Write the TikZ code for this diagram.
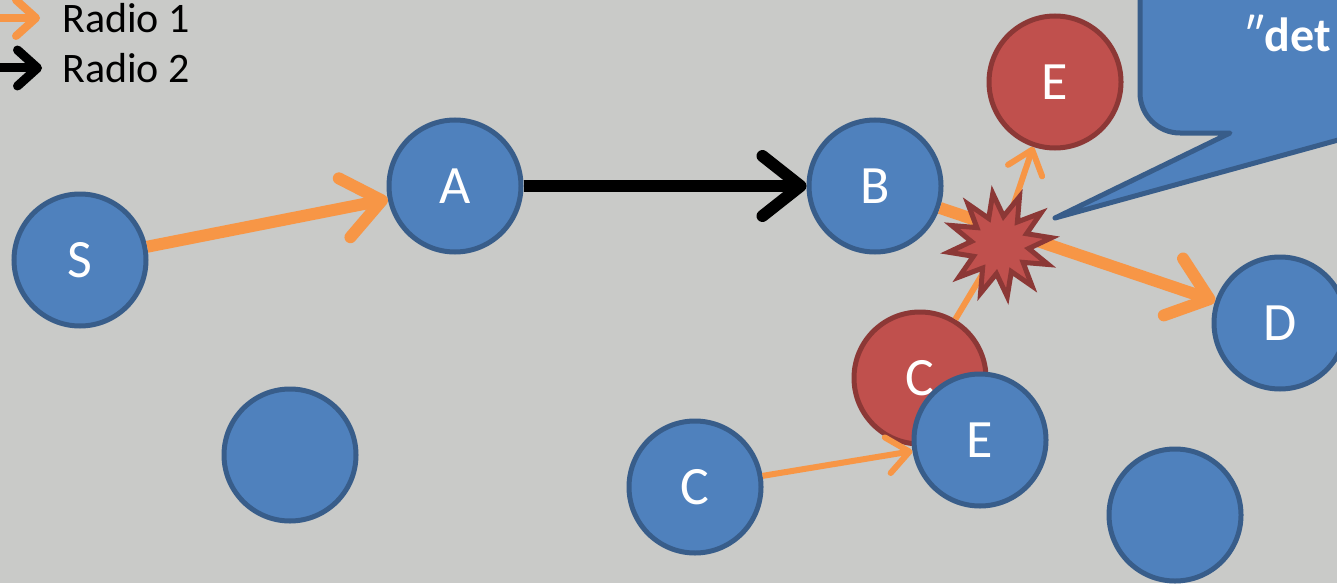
\documentclass[tikz,border=0pt]{standalone}
\usepackage{fontspec}
\setmainfont{Carlito}
\usetikzlibrary{arrows.meta,shapes.geometric}
\definecolor{bgc}{HTML}{C9CAC8}
\definecolor{bfill}{HTML}{4F81BD}
\definecolor{bline}{HTML}{385D8A}
\definecolor{rfill}{HTML}{C0504D}
\definecolor{rline}{HTML}{8C3836}
\definecolor{orng}{HTML}{F79646}
\tikzset{
  bnode/.style={circle,draw=bline,fill=bfill,line width=2.5pt,minimum size=66pt,inner sep=0pt,text=white,font=\fontsize{27}{30}\selectfont},
  rnode/.style={bnode,draw=rline,fill=rfill},
  thick arrow/.style={line width=6pt,-{Straight Barb[length=19pt,width=30pt,round]}},
  thin arrow/.style={line width=3pt,orng,-{Straight Barb[length=11pt,width=18pt,round]}},
  legend/.style={anchor=west,font=\fontsize{21}{24}\selectfont,inner sep=0pt}
}
\begin{document}
\begin{tikzpicture}[x=0.5pt,y=-0.5pt]
\useasboundingbox (0,0) rectangle (1337,583);
\fill[bgc] (0,0) rectangle (1337,583);
\begin{scope}
\clip (0,0) rectangle (1337,583);
% callout
\path[fill=bfill,draw=bline,line width=2.5pt,line join=round]
  (1140,-30) -- (1140,93) arc[start angle=180,end angle=90,radius=40] -- (1230,133) -- (1055,218) -- (1360,134) -- (1360,-30) -- cycle;
\node[anchor=base west,inner sep=0pt,text=white,font=\bfseries\fontsize{24}{28}\selectfont] (ct) at (1245,52) {{\mdseries″}det};
% nodes
\node[bnode] (S) at (80,260) {S};
\node[bnode] (A) at (455,186) {A};
\node[bnode] (B) at (875,186) {B};
\node[rnode] (Et) at (1055,82) {E};
\node[bnode] (D) at (1280,323) {D};
\node[rnode] (Cr) at (920,378) {C};
\node[bnode] (Eb) at (980,440) {E};
\node[bnode] (Cb) at (695,487) {C};
\node[bnode] (n1) at (290,455) {};
\node[bnode] (n2) at (1175,515) {};
% connectors
\draw[thick arrow,orng] (S) -- (A);
\draw[thick arrow,black] (A) -- (B);
\coordinate (x) at (1000,245);
\draw[thick arrow,orng] (B) -- (D);
\draw[thin arrow] (x) -- (Et);
\draw[line width=3pt,orng] (Cr) -- (x);
\draw[thin arrow] (Cb) -- (Eb);
\node[star,star points=12,star point ratio=1.8,minimum size=52pt,inner sep=0pt,draw=rline,fill=rfill,line width=2.5pt,rotate=8] (boom) at (x) {};
% legend
\coordinate (l1a) at (0,18); \coordinate (l1b) at (40,18);
\coordinate (l2a) at (0,68); \coordinate (l2b) at (42,68);
\draw[orng,line width=4pt,-{Straight Barb[length=10pt,width=18pt,round]}] (l1a) -- (l1b);
\draw[black,line width=4.5pt,-{Straight Barb[length=10pt,width=18pt,round]}] (l2a) -- (l2b);
\node[legend] (r1) at (62,18) {Radio 1};
\node[legend] (r2) at (62,68) {Radio 2};
\end{scope}
\end{tikzpicture}
\end{document}
